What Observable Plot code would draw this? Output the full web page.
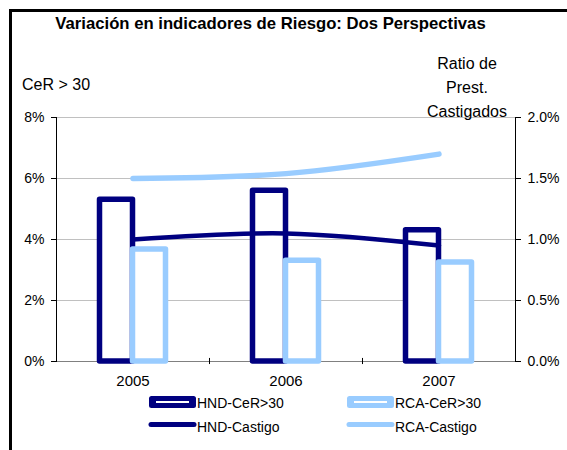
<!DOCTYPE html>
<html>
<head>
<meta charset="utf-8">
<script src="https://cdn.jsdelivr.net/npm/d3@7"></script>
<script src="https://cdn.jsdelivr.net/npm/@observablehq/plot@0.6"></script>
<style>
  html, body { margin: 0; padding: 0; background: #fff; }
  body { width: 567px; height: 450px; position: relative; overflow: hidden;
         font-family: "Liberation Sans", Arial, sans-serif; color: #000; }
  #frame { position: absolute; left: 9px; top: 9px; width: 600px; height: 500px;
           border-left: 3px solid #000; border-top: 3px solid #000; }
  .lbl { position: absolute; white-space: nowrap; line-height: 1; }
  #chart { position: absolute; left: 0; top: 0; }
  .leg { position: absolute; font-size: 14px; line-height: 1; white-space: nowrap; }
  .leg svg { position: absolute; left: 0; }
</style>
</head>
<body>
<div id="frame"></div>
<div id="chart"></div>
<div class="lbl" style="left:0;width:541px;text-align:center;top:16px;font-size:16.7px;font-weight:bold;">Variación en indicadores de Riesgo: Dos Perspectivas</div>
<div class="lbl" style="left:22px;top:77px;font-size:16px;">CeR &gt; 30</div>
<div class="lbl" style="left:407px;width:120px;text-align:center;top:52px;font-size:16px;line-height:24px;white-space:normal;">Ratio de<br>Prest.<br>Castigados</div>
<div id="legend"></div>
<script>
// ---- data ----
const years = ["2005", "2006", "2007"];
const hndCeR = [5.3, 5.6, 4.3];          // % (left axis)
const rcaCeR = [3.67, 3.3, 3.25];        // % (left axis)
const hndCastigo = [1.0, 1.05, 0.95];    // % (right axis)
const rcaCastigo = [1.5, 1.54, 1.7];     // % (right axis)
const leftTicks = [0, 2, 4, 6, 8];
const rightTicks = [0, 0.5, 1.0, 1.5, 2.0];
const seriesNames = ["HND-CeR>30", "RCA-CeR>30", "HND-Castigo", "RCA-Castigo"];
const navy = "#000080";
const light = "#99ccff";

const ratio = leftTicks[leftTicks.length - 1] / rightTicks[rightTicks.length - 1];
const rows = years.map((y, i) => ({
  year: y, hnd: hndCeR[i], rca: rcaCeR[i],
  hndC: hndCastigo[i] * ratio, rcaC: rcaCastigo[i] * ratio
}));

const W = 567, H = 450, mL = 56, mR = 52, mT = 117, mB = 89;
const bw = (W - mL - mR) / years.length;
const barW = 33;

const chart = Plot.plot({
  width: W, height: H,
  marginLeft: mL, marginRight: mR, marginTop: mT, marginBottom: mB,
  style: { fontFamily: "Liberation Sans, Arial, sans-serif", fontSize: "14px", background: "transparent", color: "#000" },
  x: { type: "band", domain: years, padding: 0, axis: null, label: null },
  y: { domain: [0, 8], axis: null, label: null },
  marks: [
    Plot.gridY(leftTicks.slice(1), { stroke: "#c0c0c0", strokeOpacity: 1 }),
    Plot.ruleY([0], { stroke: "#808080", strokeWidth: 1.2 }),
    Plot.barY(rows, { x: "year", y: "hnd", fill: "white", stroke: navy, strokeWidth: 5.5,
      strokeLinejoin: "round", insetLeft: bw / 2 - barW, insetRight: bw / 2 }),
    Plot.barY(rows, { x: "year", y: "rca", fill: "white", stroke: light, strokeWidth: 5.5,
      strokeLinejoin: "round", insetLeft: bw / 2, insetRight: bw / 2 - barW }),
    Plot.line(rows, { x: "year", y: "hndC", stroke: navy, strokeWidth: 4.5, curve: "catmull-rom" }),
    Plot.line(rows, { x: "year", y: "rcaC", stroke: light, strokeWidth: 5.5, strokeLinecap: "round", curve: "catmull-rom" }),
    Plot.ruleX(years.slice(1), { x: d => d, dx: -bw / 2, y1: -0.1, y2: 0.1, stroke: "#000" }),
    Plot.frame({ anchor: "left", stroke: "#000" }),
    Plot.frame({ anchor: "right", stroke: "#000" }),
    Plot.axisY(leftTicks, { anchor: "left", label: null, tickFormat: d => d + "%", tickSize: 5, tickPadding: 7, fontSize: 14 }),
    Plot.axisY(rightTicks.map(t => t * ratio), { anchor: "right", label: null, tickFormat: d => (d / ratio).toFixed(1) + "%", tickSize: 5, tickPadding: 7, fontSize: 14 }),
    Plot.axisX(years, { anchor: "bottom", label: null, tickSize: 0, tickPadding: 14, fontSize: 15 })
  ]
});
document.getElementById("chart").appendChild(chart);

// ---- legend ----
const legend = document.getElementById("legend");
const legPos = [
  { left: 148, top: 395, kind: "bar", color: navy },
  { left: 346, top: 395, kind: "bar", color: light },
  { left: 148, top: 419, kind: "line", color: navy },
  { left: 346, top: 419, kind: "line", color: light }
];
seriesNames.forEach((name, i) => {
  const p = legPos[i];
  const d = document.createElement("div");
  d.className = "leg";
  d.style.left = p.left + "px";
  d.style.top = p.top + "px";
  d.style.height = "14px";
  d.style.paddingLeft = "49px";
  let sw;
  if (p.kind === "bar") {
    sw = `<svg width="49" height="14" style="top:0"><rect x="1" y="1" width="47" height="12" rx="2.5" fill="${p.color}"/><line x1="8" x2="41" y1="7" y2="7" stroke="white" stroke-width="2"/></svg>`;
  } else {
    sw = `<svg width="49" height="14" style="top:0"><line x1="3" x2="46" y1="5.5" y2="5.5" stroke="${p.color}" stroke-width="5" stroke-linecap="round"/></svg>`;
  }
  d.innerHTML = sw + `<span style="position:relative;top:1px">${name}</span>`;
  legend.appendChild(d);
});
</script>
</body>
</html>
